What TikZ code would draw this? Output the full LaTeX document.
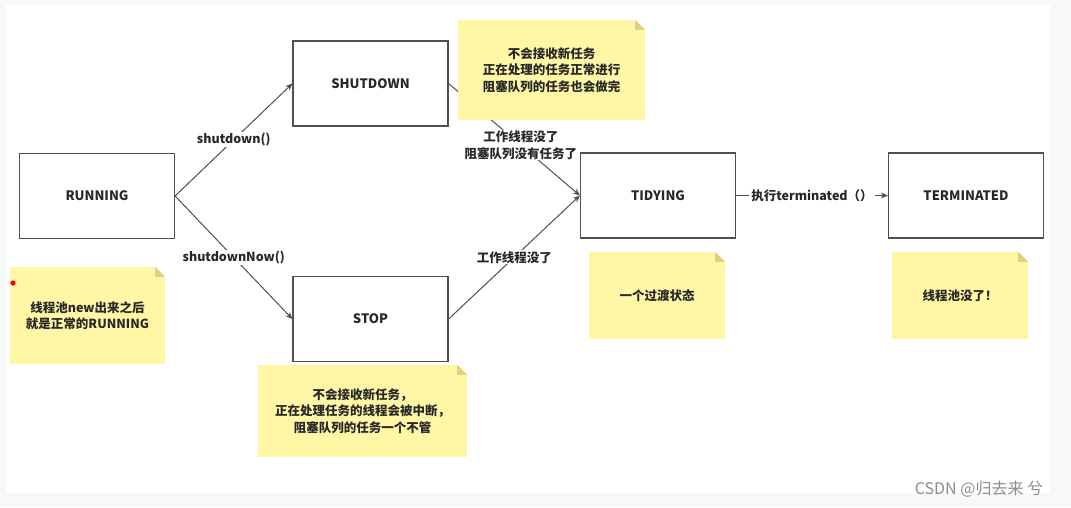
\documentclass[tikz,border=0pt]{standalone}
\usepackage{fontspec}
\setmainfont{Noto Sans CJK SC}
\usetikzlibrary{arrows.meta,calc}
\definecolor{notefill}{RGB}{255,246,166}
\definecolor{notefold}{RGB}{220,210,130}
\definecolor{boxline}{RGB}{80,80,80}
\definecolor{txt}{RGB}{40,40,40}
\definecolor{pagebg}{RGB}{247,248,248}
\tikzset{
  state/.style={draw=boxline, line width=1.2pt, fill=white, minimum width=155pt, minimum height=85pt,
    font=\fontsize{13}{15}\selectfont\bfseries, text=txt},
  note/.style={fill=notefill, align=center, font=\fontsize{12.5}{16.5}\selectfont\bfseries, text=txt,
    inner sep=0pt},
  conn/.style={draw=boxline, line width=1pt, -{Stealth[length=7pt,width=6pt]}},
  elabel/.style={fill=white, inner sep=1pt, align=center, font=\fontsize{12.5}{16.5}\selectfont\bfseries, text=txt},
}
\newcommand{\notefold}[1]{%
  \fill[white] ($(#1.north east)+(-10,0)$) -- (#1.north east) -- ($(#1.north east)+(0,10)$) -- cycle;
  \fill[notefold] ($(#1.north east)+(-10,0)$) -- ($(#1.north east)+(0,10)$) -- ($(#1.north east)+(-10,10)$) -- cycle;}
\begin{document}
\begin{tikzpicture}[x=1pt,y=-1pt]
\fill[pagebg] (0,0) rectangle (1071,507);
\fill[white] (6,5) rectangle (1050,493);
\useasboundingbox (0,0) rectangle (1071,507);

% states
\node[state] (run)  at (97,196)  {RUNNING};
\node[state] (shut) at (370.5,83.5) {SHUTDOWN};
\node[state] (stop) at (370.5,319) {STOP};
\node[state] (tidy) at (658,195.5) {TIDYING};
\node[state] (term) at (966,195.5) {TERMINATED};

% connectors
\draw[conn] (run.east) -- node[elabel] {shutdown()} (shut.west);
\draw[conn] (run.east) -- node[elabel] {shutdownNow()} (stop.west);
\draw[conn] (shut.east) -- node[elabel, pos=0.55] {工作线程没了\\阻塞队列没有任务了} (tidy.west);
\draw[conn] (stop.east) -- node[elabel] {工作线程没了} (tidy.west);
\draw[conn] (tidy.east) -- node[elabel, inner sep=2pt] {执行terminated（）} (term.west);

% notes
\node[note, minimum width=155pt, minimum height=97pt] (n1) at (87.5,315.5) {线程池new出来之后\\就是正常的RUNNING};
\notefold{n1}
\fill[red] (13,283) circle (2.6pt);
\node[note, minimum width=187pt, minimum height=100pt] (n2) at (551.5,70) {不会接收新任务\\正在处理的任务正常进行\\阻塞队列的任务也会做完};
\notefold{n2}
\node[note, minimum width=209pt, minimum height=92pt] (n3) at (362.5,411) {不会接收新任务，\\正在处理任务的线程会被中断，\\阻塞队列的任务一个不管};
\notefold{n3}
\node[note, minimum width=136pt, minimum height=87pt] (n4) at (657,295.5) {一个过渡状态};
\notefold{n4}
\node[note, minimum width=136pt, minimum height=87pt] (n5) at (960,295.5) {线程池没了！};
\notefold{n5}

% watermark
\node[text=black!45, font=\fontsize{16}{18}\selectfont, inner sep=0pt] (wm) at (979,489) {CSDN @归去来 兮};
\end{tikzpicture}
\end{document}
